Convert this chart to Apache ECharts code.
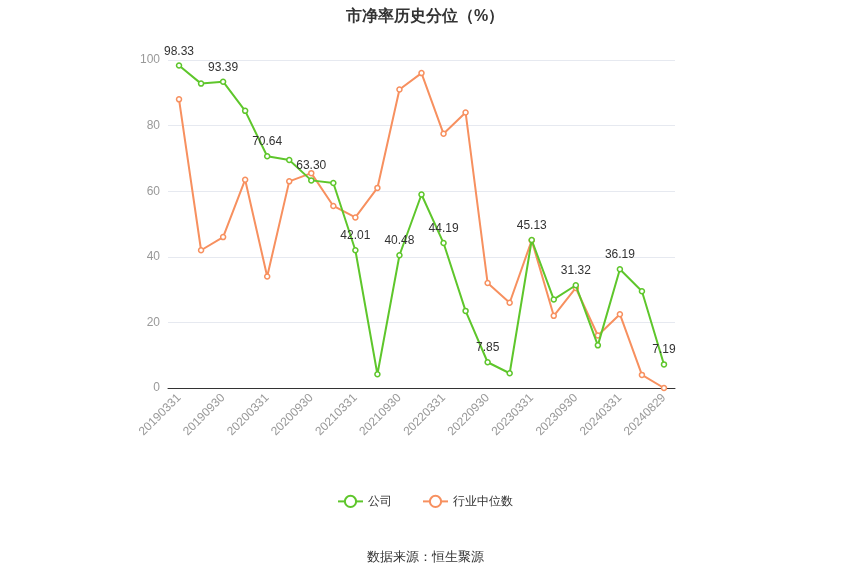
<!DOCTYPE html>
<html><head><meta charset="utf-8">
<script src="https://cdn.jsdelivr.net/npm/echarts@6/dist/echarts.min.js"></script>
<style>html,body{margin:0;padding:0;background:#fff}#c{width:850px;height:575px}</style>
</head><body><div id="c"></div>
<script>
const categories=['20190331','20190630','20190930','20191231','20200331','20200630','20200930','20201231','20210331','20210630','20210930','20211231','20220331','20220630','20220930','20221231','20230331','20230630','20230930','20231231','20240331','20240630','20240829'];
const company=[98.33,92.8,93.39,84.5,70.64,69.5,63.30,62.5,42.01,4.2,40.48,59,44.19,23.5,7.85,4.5,45.13,27,31.32,13,36.19,29.5,7.19];
const industry=[88,42,46,63.5,34,63,65.5,55.5,52,61,91,96,77.5,84,32,26,45,22,30.5,16,22.5,4,0];
const yTicks=[0,20,40,60,80,100];
const chart=echarts.init(document.getElementById('c'));
chart.setOption({
 animation:false,
 title:[{text:'市净率历史分位（%）',left:'center',top:4,textStyle:{fontSize:16,fontWeight:'bold',color:'#333'}},
  {text:'数据来源：恒生聚源',left:'center',top:546,textStyle:{fontSize:13,fontWeight:'normal',color:'#333'}}],
 legend:{bottom:62,itemGap:30,data:['公司','行业中位数'],textStyle:{color:'#333',fontSize:12}},
 grid:{left:168,right:175,top:60,bottom:187},
 xAxis:{type:'category',data:categories,boundaryGap:true,
  axisLabel:{rotate:45,interval:(i)=>i%2===0||i===22?true:false,color:'#999',fontSize:12},
  axisTick:{alignWithLabel:true,interval:(i)=>i%2===0||i===22},axisLine:{lineStyle:{color:'#333'}}},
 yAxis:{type:'value',min:yTicks[0],max:yTicks[yTicks.length-1],interval:20,
  axisLabel:{color:'#999',fontSize:12},splitLine:{lineStyle:{color:'#e6e9f0'}}},
 series:[
  {name:'公司',type:'line',data:company,color:'#5ec62b',symbol:'circle',symbolSize:5,itemStyle:{color:'#fff',borderColor:'#5ec62b',borderWidth:1.5},lineStyle:{width:2,color:'#5ec62b'},
   label:{show:true,position:'top',color:'#333',fontSize:12,formatter:p=>(p.dataIndex%2===0)?p.value.toFixed(2):''},z:3},
  {name:'行业中位数',type:'line',data:industry,color:'#ff9c6e',symbol:'circle',symbolSize:5,itemStyle:{color:'#fff',borderColor:'#f7905f',borderWidth:1.5},lineStyle:{width:2,color:'#f7905f'},z:2}
 ]
});
</script></body></html>
